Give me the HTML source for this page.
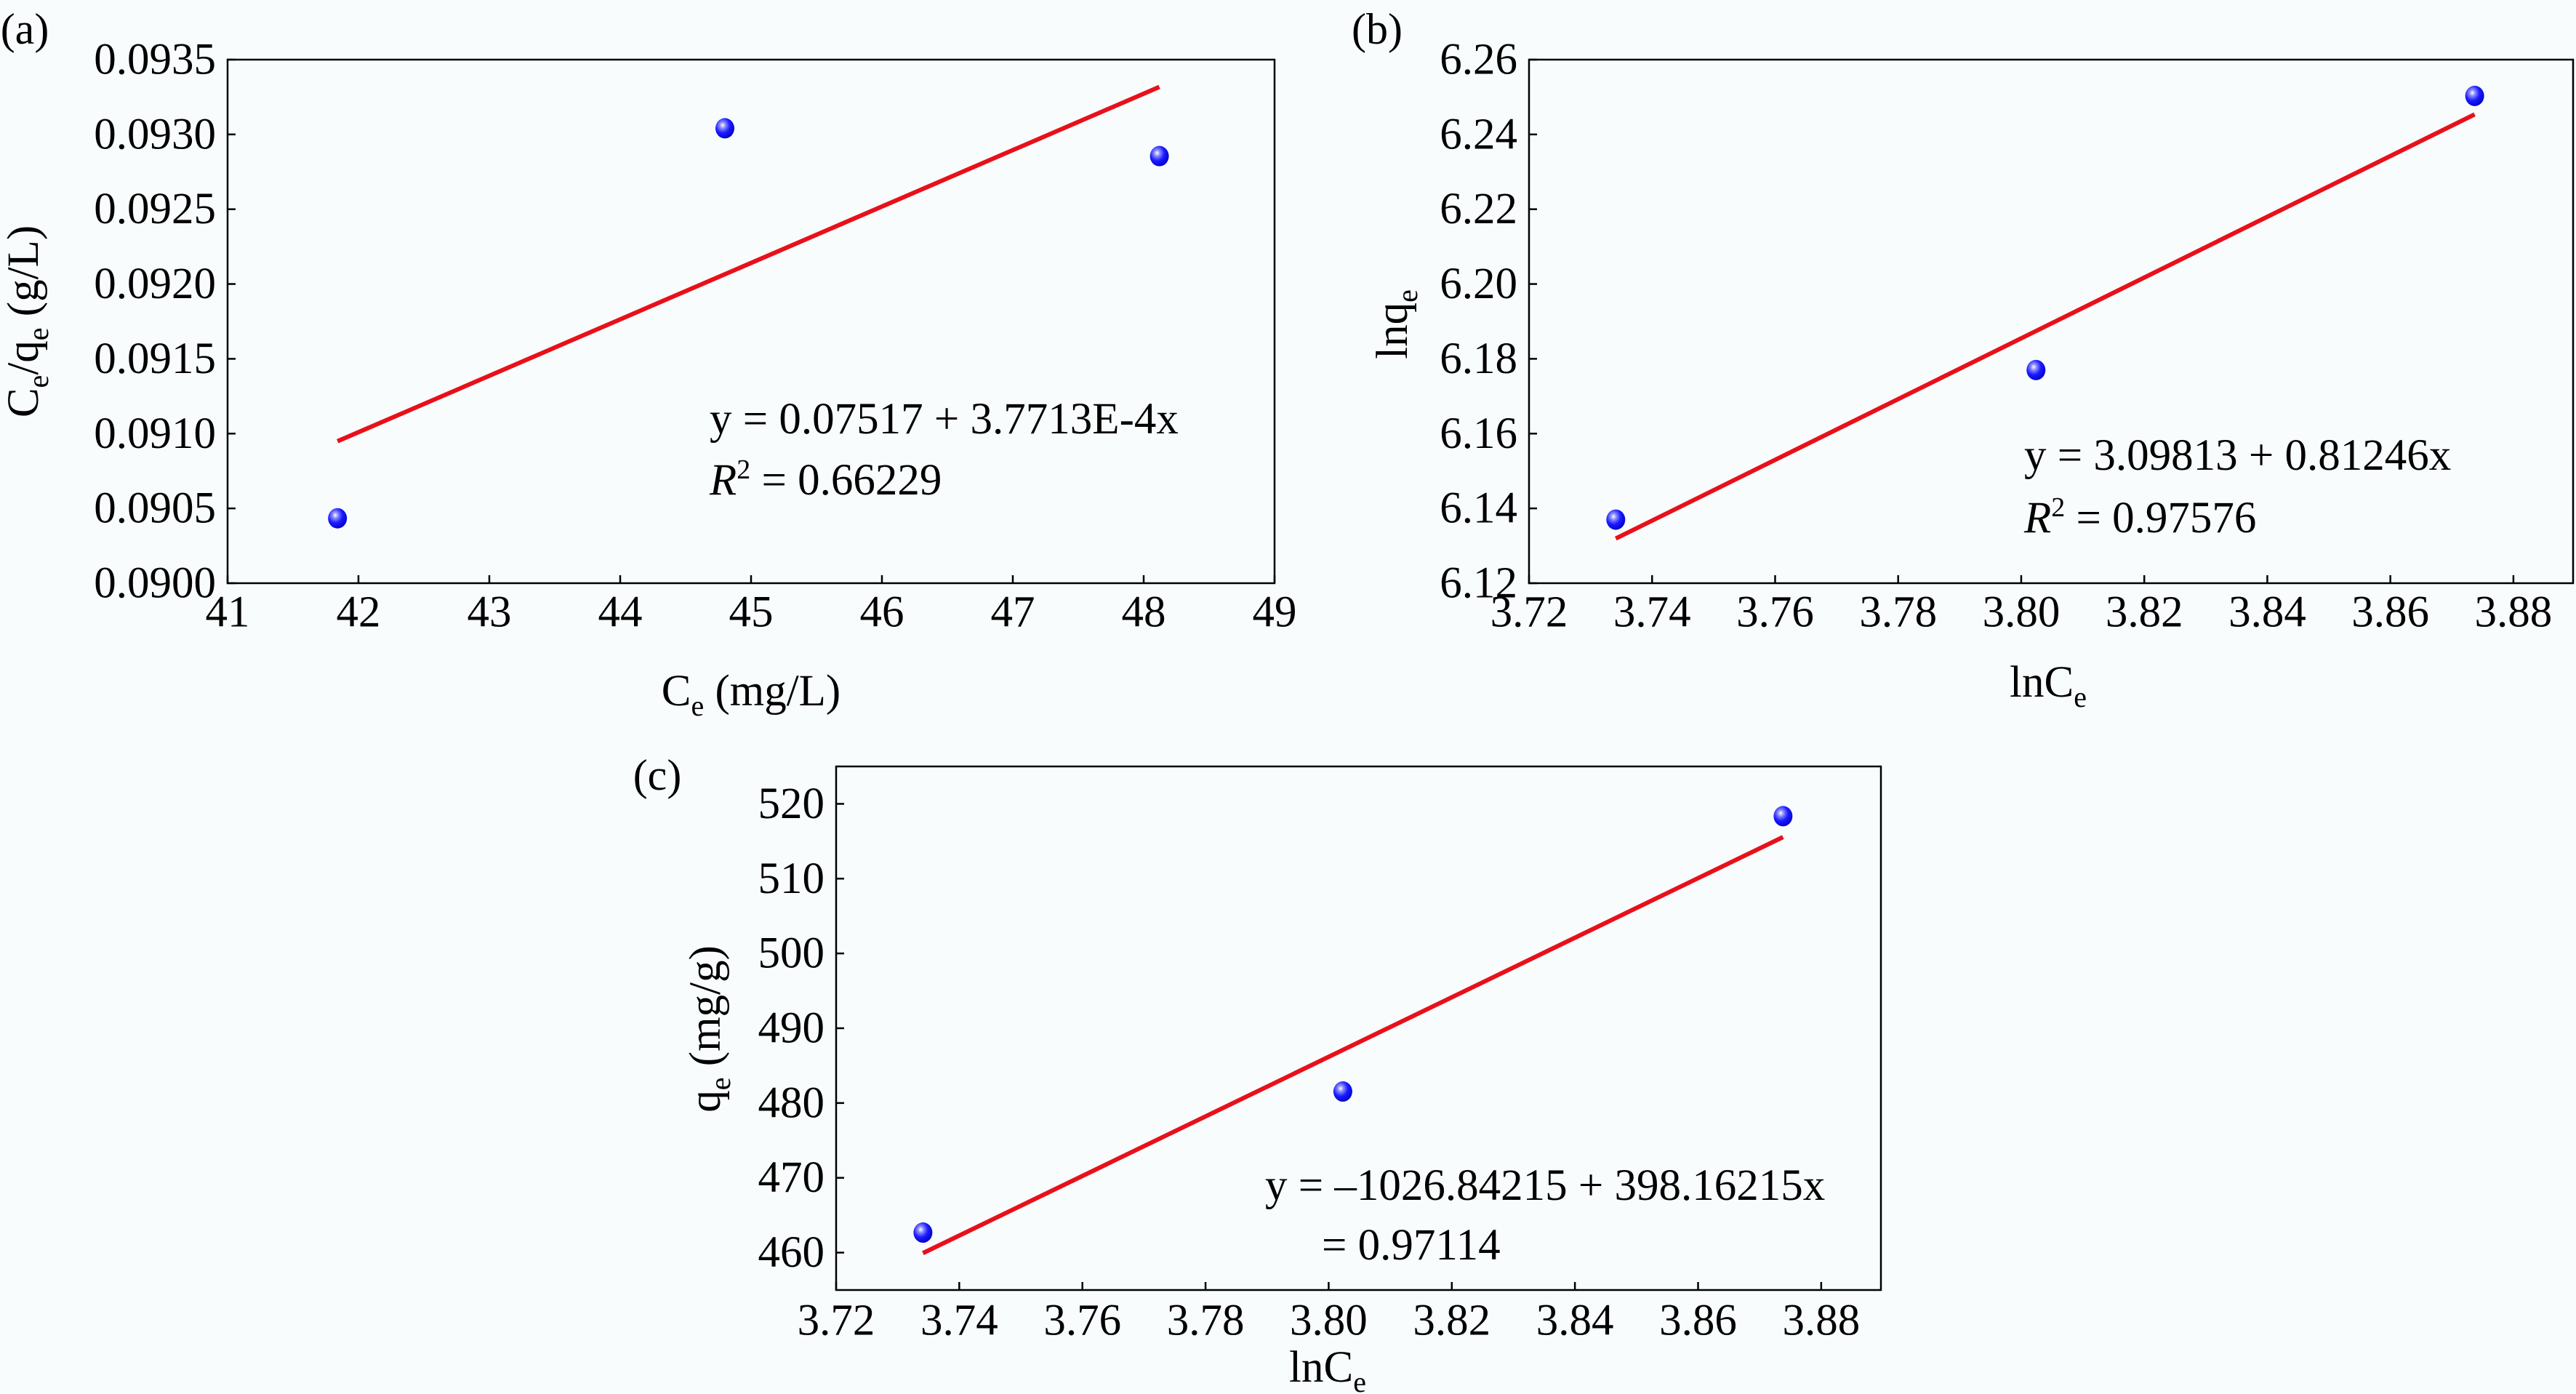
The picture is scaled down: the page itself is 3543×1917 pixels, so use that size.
<!DOCTYPE html>
<html><head><meta charset="utf-8"><style>
html,body{margin:0;padding:0;background:#f9fcfd;}
svg{display:block;font-family:"Liberation Serif",serif;}
text{font-family:"Liberation Serif",serif;}
</style></head><body>
<svg id="chart" width="3543" height="1917" viewBox="0 0 3543 1917" xmlns="http://www.w3.org/2000/svg" font-family="Liberation Serif, serif">
<defs>
<radialGradient id="ball" cx="0.38" cy="0.35" r="0.7">
<stop offset="0" stop-color="#ffffff"/><stop offset="0.22" stop-color="#8a8aff"/><stop offset="0.55" stop-color="#1a1aff"/><stop offset="1" stop-color="#0000c8"/>
</radialGradient>
</defs>
<rect x="0" y="0" width="3543" height="1917" fill="#f9fcfd"/>
<g id="root" font-family="Liberation Serif, serif"></g>
</svg>
<script>
// Panel (a) Langmuir
const aX = [41.84, 44.80, 48.12];
const aY = [0.090434, 0.093041, 0.092855];
const aXTicks = [41, 42, 43, 44, 45, 46, 47, 48, 49];
const aYTicks = [0.0900, 0.0905, 0.0910, 0.0915, 0.0920, 0.0925, 0.0930, 0.0935];
const aFit = [0.07517, 3.7713e-4];
// Panel (b) Freundlich
const bX = [3.7341, 3.8024, 3.8737];
const bY = [6.137, 6.177, 6.2503];
const bXTicks = [3.72, 3.74, 3.76, 3.78, 3.80, 3.82, 3.84, 3.86, 3.88];
const bYTicks = [6.12, 6.14, 6.16, 6.18, 6.20, 6.22, 6.24, 6.26];
const bFit = [3.09813, 0.81246];
// Panel (c) Temkin
const cX = [3.7341, 3.8023, 3.8738];
const cY = [462.68, 481.54, 518.35];
const cXTicks = [3.72, 3.74, 3.76, 3.78, 3.80, 3.82, 3.84, 3.86, 3.88];
const cYTicks = [460, 470, 480, 490, 500, 510, 520];
const cFit = [-1026.84215, 398.16215];

const NS = 'http://www.w3.org/2000/svg';
const root = document.getElementById('root');
function mk(tag, attrs, parent, text) {
  const e = document.createElementNS(NS, tag);
  for (const k in attrs) e.setAttribute(k, attrs[k]);
  if (text !== undefined) e.textContent = text;
  (parent || root).appendChild(e);
  return e;
}

function panel(cfg) {
  const g = mk('g', {});
  
  
  const L = cfg.box[0], R = cfg.box[1], T = cfg.box[2], B = cfg.box[3];
  const sx = v => L + (v - cfg.xr[0]) / (cfg.xr[1] - cfg.xr[0]) * (R - L);
  const sy = v => B - (v - cfg.yr[0]) / (cfg.yr[1] - cfg.yr[0]) * (B - T);
  const frame = mk('rect', {x: L, y: T, width: R - L, height: B - T, fill: 'none', stroke: '#000', 'stroke-width': 2.5}, g);
  
  
  cfg.xt.forEach(v => {
    const x = sx(v);
    const t = mk('line', {x1: x, x2: x, y1: B, y2: B - 11, stroke: '#000', 'stroke-width': 2.5}, g);
    
    
    const lb = mk('text', {x: x, y: cfg.xLabY, 'font-size': 61, 'text-anchor': 'middle', 'dominant-baseline': 'central'}, g, cfg.xf(v));
    
    
  });
  cfg.yt.forEach(v => {
    const y = sy(v);
    const t = mk('line', {x1: L, x2: L + 11, y1: y, y2: y, stroke: '#000', 'stroke-width': 2.5}, g);
    
    
    const lb = mk('text', {x: L - 16, y: y, 'font-size': 61, 'text-anchor': 'end', 'dominant-baseline': 'central'}, g, cfg.yf(v));
    
    
  });
  const x0 = cfg.xs[0], x1 = cfg.xs[cfg.xs.length - 1];
  const fl = mk('line', {x1: sx(x0), y1: sy(cfg.fit[0] + cfg.fit[1] * x0), x2: sx(x1), y2: sy(cfg.fit[0] + cfg.fit[1] * x1), stroke: '#e8101a', 'stroke-width': 6}, g);
  
  
  cfg.xs.forEach((v, i) => {
    const c = mk('ellipse', {cx: sx(v), cy: sy(cfg.ys[i]), rx: 13, ry: 14, fill: 'url(#ball)'}, g);
    
    
  });
  return g;
}

function html(str, attrs, name) {
  const t = mk('text', attrs);
  t.innerHTML = str;
  
  
  return t;
}

panel({name: 'panel-a-langmuir', box: [313, 1753, 82, 802], xr: [41, 49], yr: [0.0900, 0.0935],
  xt: aXTicks, yt: aYTicks, xs: aX, ys: aY, fit: aFit, xLabY: 842,
  xf: v => String(v), yf: v => v.toFixed(4)});
panel({name: 'panel-b-freundlich', box: [2103, 3539, 82, 802], xr: [3.72, 3.8897], yr: [6.12, 6.26],
  xt: bXTicks, yt: bYTicks, xs: bX, ys: bY, fit: bFit, xLabY: 842,
  xf: v => v.toFixed(2), yf: v => v.toFixed(2)});
panel({name: 'panel-c-temkin', box: [1150, 2587, 1054, 1774], xr: [3.72, 3.8897], yr: [455, 525],
  xt: cXTicks, yt: cYTicks, xs: cX, ys: cY, fit: cFit, xLabY: 1816,
  xf: v => v.toFixed(2), yf: v => String(v)});

html('(a)', {x: 34, y: 40, 'font-size': 60, 'text-anchor': 'middle', 'dominant-baseline': 'central'}, 'panel-label-a');
html('(b)', {x: 1894, y: 40, 'font-size': 60, 'text-anchor': 'middle', 'dominant-baseline': 'central'}, 'panel-label-b');
html('(c)', {x: 904, y: 1066, 'font-size': 60, 'text-anchor': 'middle', 'dominant-baseline': 'central'}, 'panel-label-c');

html('C<tspan font-size="40" dy="14">e</tspan><tspan dy="-14"> (mg/L)</tspan>', {x: 1033, y: 970, 'font-size': 61, 'text-anchor': 'middle'}, 'x-axis-title-a');
html('C<tspan font-size="40" dy="14">e</tspan><tspan dy="-14">/q</tspan><tspan font-size="40" dy="14">e</tspan><tspan dy="-14"> (g/L)</tspan>', {x: 0, y: 0, 'font-size': 61, 'text-anchor': 'middle', transform: 'translate(52,442) rotate(-90)'}, 'y-axis-title-a');
html('lnC<tspan font-size="40" dy="14">e</tspan>', {x: 2817, y: 958, 'font-size': 61, 'text-anchor': 'middle'}, 'x-axis-title-b');
html('lnq<tspan font-size="40" dy="14">e</tspan>', {x: 0, y: 0, 'font-size': 61, 'text-anchor': 'middle', transform: 'translate(1935,446) rotate(-90)'}, 'y-axis-title-b');
html('lnC<tspan font-size="40" dy="14">e</tspan>', {x: 1826, y: 1900, 'font-size': 61, 'text-anchor': 'middle'}, 'x-axis-title-c');
html('q<tspan font-size="40" dy="14">e</tspan><tspan dy="-14"> (mg/g)</tspan>', {x: 0, y: 0, 'font-size': 61, 'text-anchor': 'middle', transform: 'translate(990,1415) rotate(-90)'}, 'y-axis-title-c');

html('y = 0.07517 + 3.7713E-4x', {x: 976, y: 596, 'font-size': 61}, 'equation-a');
html('<tspan font-style="italic">R</tspan><tspan font-size="38" dy="-22">2</tspan><tspan dy="22"> = 0.66229</tspan>', {x: 976, y: 680, 'font-size': 61}, 'r-squared-a');
html('y = 3.09813 + 0.81246x', {x: 2784, y: 646, 'font-size': 61}, 'equation-b');
html('<tspan font-style="italic">R</tspan><tspan font-size="38" dy="-22">2</tspan><tspan dy="22"> = 0.97576</tspan>', {x: 2784, y: 732, 'font-size': 61}, 'r-squared-b');
html('y = \u20131026.84215 + 398.16215x', {x: 1740, y: 1650, 'font-size': 61}, 'equation-c');
html('= 0.97114', {x: 1818, y: 1732, 'font-size': 61}, 'r-squared-c');
</script>
</body></html>
